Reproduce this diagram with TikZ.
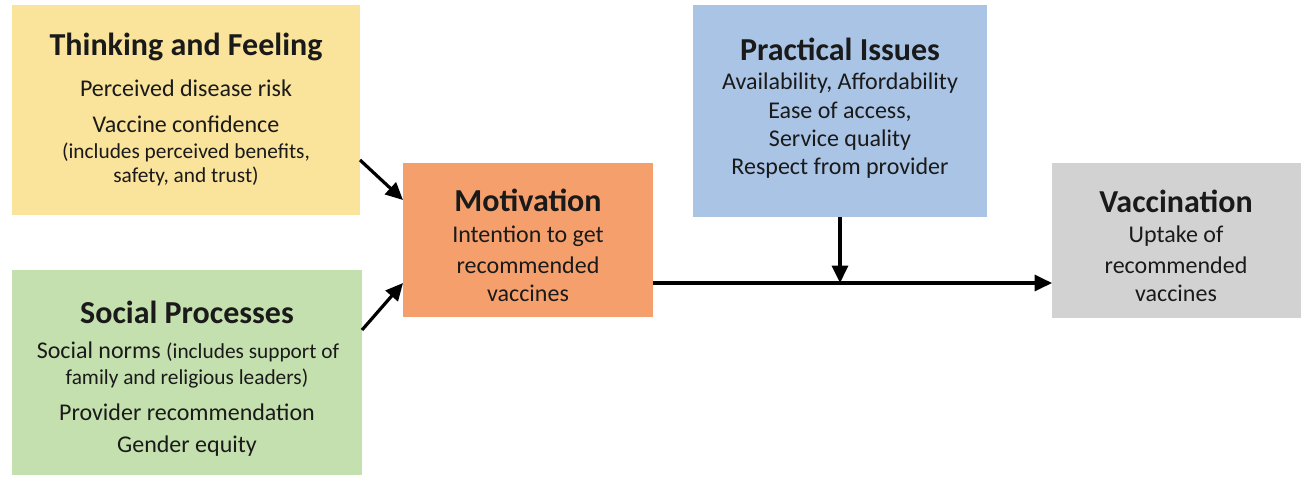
\documentclass[tikz,border=0pt]{standalone}
\usepackage{fontspec}
\setmainfont{Carlito}
\usetikzlibrary{arrows.meta}
\definecolor{cyellow}{HTML}{FAE39A}
\definecolor{cgreen}{HTML}{C4E0AE}
\definecolor{corange}{HTML}{F5A06C}
\definecolor{cblue}{HTML}{AAC4E6}
\definecolor{cgray}{HTML}{D2D2D2}
\definecolor{ctext}{HTML}{1A1A1A}
\tikzset{
  box/.style={draw=none, inner sep=0pt, anchor=north west},
  ttl/.style={font=\fontsize{24}{28}\selectfont\bfseries, text=ctext, inner sep=0pt},
  body/.style={font=\fontsize{18}{21}\selectfont, text=ctext, inner sep=0pt},
  small/.style={font=\fontsize{16}{19}\selectfont, text=ctext, inner sep=0pt},
  arr/.style={line width=2.4pt, -{Triangle[length=13pt,width=12pt]}},
}
\begin{document}
\begin{tikzpicture}[x=0.75pt,y=-0.75pt]
\useasboundingbox (0,0) rectangle (1301,478);
% boxes
\node[box, fill=cyellow, minimum width=348*0.75pt, minimum height=210*0.75pt] (tf) at (12,5) {};
\node[box, fill=cgreen, minimum width=350*0.75pt, minimum height=205*0.75pt] (sp) at (12,270) {};
\node[box, fill=corange, minimum width=250*0.75pt, minimum height=154*0.75pt] (mo) at (403,163) {};
\node[box, fill=cblue, minimum width=294*0.75pt, minimum height=212*0.75pt] (pi) at (693,5) {};
\node[box, fill=cgray, minimum width=249*0.75pt, minimum height=155*0.75pt] (va) at (1052,163) {};
% texts: Thinking and Feeling
\node[ttl] (tf1) at (186,47) {Thinking and Feeling};
\node[body] (tf2) at (186,88) {Perceived disease risk};
\node[body] (tf3) at (186,124) {Vaccine confidence};
\node[small] (tf4) at (186,152) {(includes perceived benefits,};
\node[small] (tf5) at (186,176) {safety, and trust)};
% Social Processes
\node[ttl] (sp1) at (187,312) {Social Processes};
\node[body] (sp2) at (188,352) {Social norms \fontsize{16}{19}\selectfont(includes support of};
\node[small] (sp3) at (187,379) {family and religious leaders)};
\node[body] (sp4) at (187,412) {Provider recommendation};
\node[body] (sp5) at (187,446) {Gender equity};
% Motivation
\node[ttl] (mo1) at (528,200) {Motivation};
\node[body] (mo2) at (528,236) {Intention to get};
\node[body] (mo3) at (528,265) {recommended};
\node[body] (mo4) at (528,293) {vaccines};
% Practical Issues
\node[ttl] (pi1) at (840,49) {Practical Issues};
\node[body] (pi2) at (840,83) {Availability, Affordability};
\node[body] (pi3) at (840,112) {Ease of access,};
\node[body] (pi4) at (840,140) {Service quality};
\node[body] (pi5) at (840,168) {Respect from provider};
% Vaccination
\node[ttl] (va1) at (1176,201) {Vaccination};
\node[body] (va2) at (1176,236) {Uptake of};
\node[body] (va3) at (1176,265) {recommended};
\node[body] (va4) at (1176,293) {vaccines};
% connectors
\coordinate (tfa) at (360,160);
\coordinate (moa) at (403,200);
\coordinate (spa) at (362,330);
\coordinate (mob) at (403,283);
\coordinate (moc) at (653,283);
\coordinate (vaa) at (1052,283);
\coordinate (pia) at (840,217);
\coordinate (junc) at (840,283);
\draw[arr] (tfa) -- (moa);
\draw[arr] (spa) -- (mob);
\draw[arr] (moc) -- (vaa);
\draw[arr] (pia) -- (junc);
\end{tikzpicture}
\end{document}
